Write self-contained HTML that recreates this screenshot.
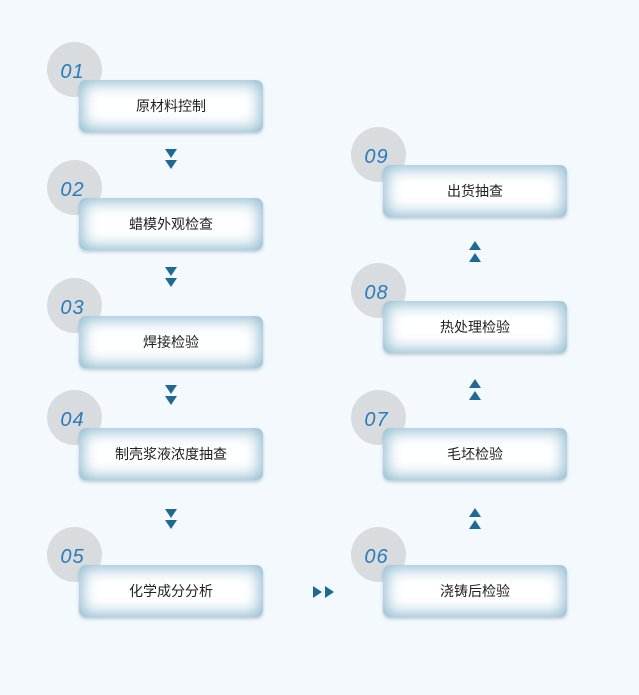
<!DOCTYPE html>
<html><head><meta charset="utf-8"><style>
body{margin:0;width:639px;height:695px;background:#f3f9fd;position:relative;overflow:hidden;font-family:"Liberation Sans","Noto Sans CJK SC",sans-serif}
.c{position:absolute;width:55px;height:55px;border-radius:50%;background:#d8dcdf}
.n{position:absolute;font-style:italic;color:#2a7ab8;font-size:20px;width:55px;text-align:center;line-height:55px;letter-spacing:1px;margin-top:3px}
.b{position:absolute;width:184px;height:52px;border-radius:7px;background:#fff;box-shadow:inset 0 0 16px 3px #8ab8ce,0 2px 3px rgba(80,120,140,.35);text-align:center;line-height:52px;font-size:14px;color:#222}
.t{position:absolute;width:0;height:0;border-left:6px solid transparent;border-right:6px solid transparent}
.d{border-top:9px solid #1f6a94}.u{border-bottom:9px solid #1f6a94}
.r{position:absolute;width:0;height:0;border-top:6px solid transparent;border-bottom:6px solid transparent;border-left:9px solid #1f6a94}
</style></head><body>
<div class="c" style="left:47px;top:42px"></div><div class="n" style="left:45px;top:42px">01</div><div class="b" style="left:79px;top:80px">原材料控制</div>
<div class="c" style="left:47px;top:160px"></div><div class="n" style="left:45px;top:160px">02</div><div class="b" style="left:79px;top:198px">蜡模外观检查</div>
<div class="c" style="left:47px;top:278px"></div><div class="n" style="left:45px;top:278px">03</div><div class="b" style="left:79px;top:316px">焊接检验</div>
<div class="c" style="left:47px;top:390px"></div><div class="n" style="left:45px;top:390px">04</div><div class="b" style="left:79px;top:428px">制壳浆液浓度抽查</div>
<div class="c" style="left:47px;top:527px"></div><div class="n" style="left:45px;top:527px">05</div><div class="b" style="left:79px;top:565px">化学成分分析</div>
<div class="c" style="left:351px;top:127px"></div><div class="n" style="left:349px;top:127px">09</div><div class="b" style="left:383px;top:165px">出货抽查</div>
<div class="c" style="left:351px;top:263px"></div><div class="n" style="left:349px;top:263px">08</div><div class="b" style="left:383px;top:301px">热处理检验</div>
<div class="c" style="left:351px;top:390px"></div><div class="n" style="left:349px;top:390px">07</div><div class="b" style="left:383px;top:428px">毛坯检验</div>
<div class="c" style="left:351px;top:527px"></div><div class="n" style="left:349px;top:527px">06</div><div class="b" style="left:383px;top:565px">浇铸后检验</div>
<div class="t d" style="left:165px;top:149px"></div><div class="t d" style="left:165px;top:160px"></div>
<div class="t d" style="left:165px;top:267px"></div><div class="t d" style="left:165px;top:278px"></div>
<div class="t d" style="left:165px;top:385px"></div><div class="t d" style="left:165px;top:396px"></div>
<div class="t d" style="left:165px;top:509px"></div><div class="t d" style="left:165px;top:520px"></div>
<div class="t u" style="left:469px;top:241px"></div><div class="t u" style="left:469px;top:253px"></div>
<div class="t u" style="left:469px;top:379px"></div><div class="t u" style="left:469px;top:391px"></div>
<div class="t u" style="left:469px;top:508px"></div><div class="t u" style="left:469px;top:520px"></div>
<div class="r" style="left:313px;top:586px"></div><div class="r" style="left:325px;top:586px"></div>
</body></html>
